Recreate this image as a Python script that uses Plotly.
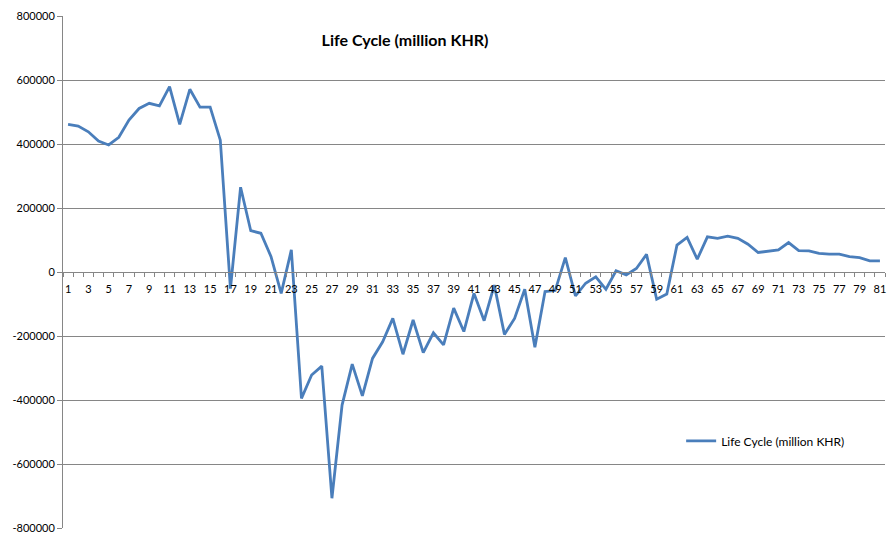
import plotly.graph_objects as go

categories = list(range(1, 82))
life_cycle = [
    461000, 456000, 438000, 409000, 397000, 421000, 475000, 511000, 527000, 519000,
    579000, 461000, 571000, 515000, 515000, 412000, -52000, 265000, 129000, 121000,
    48000, -67000, 69000, -395000, -322000, -294000, -707000, -416000, -288000, -387000,
    -270000, -218000, -145000, -257000, -150000, -252000, -190000, -228000, -113000, -186000,
    -67000, -152000, -41000, -195000, -145000, -54000, -235000, -61000, -58000, 45000,
    -75000, -35000, -15000, -54000, 4000, -9000, 11000, 55000, -85000, -69000,
    84000, 108000, 40000, 110000, 105000, 112000, 105000, 87000, 61000, 64000,
    69000, 92000, 67000, 66000, 58000, 56000, 56000, 48000, 45000, 35000,
    35000,
]
series_name = "Life Cycle (million KHR)"
y_ticks = [800000, 600000, 400000, 200000, 0, -200000, -400000, -600000, -800000]
y_tick_labels = [str(v) for v in y_ticks]
x_tick_vals = [c for c in categories if c % 2 == 1]

fig = go.Figure()
fig.add_trace(go.Scatter(
    x=categories, y=life_cycle, mode="lines", name=series_name,
    line=dict(color="#4a7ebb", width=2.8), showlegend=True,
))

fig.update_layout(
    width=888, height=536,
    margin=dict(l=63, r=3, t=16, b=8, autoexpand=False),
    paper_bgcolor="white", plot_bgcolor="white",
    font=dict(family="Lato, Open Sans, sans-serif", size=11, color="black"),
    title=dict(text="<b>Life Cycle (million KHR)</b>", x=405/888, xanchor="center",
               y=1-40/536, yanchor="middle", font=dict(size=16, color="black")),
    legend=dict(x=0.752, y=0.17, xanchor="left", yanchor="middle",
                bgcolor="rgba(0,0,0,0)", font=dict(size=12), itemwidth=30),
    xaxis=dict(
        range=[0.5, 81.5], tickmode="array", tickvals=x_tick_vals,
        ticktext=[str(v) for v in x_tick_vals], automargin=False,
        anchor="free", position=0.5, showgrid=False, zeroline=False,
        showline=True, linecolor="#868686", linewidth=1,
        ticks="outside", ticklen=7, tickcolor="rgba(0,0,0,0)", tickfont=dict(size=11),
        minor=dict(ticks="outside", tickmode="linear", tick0=0.5, dtick=1,
                   ticklen=4, tickcolor="#868686", showgrid=False),
    ),
    yaxis=dict(
        range=[-800000, 800000], tickmode="array", tickvals=y_ticks,
        ticktext=y_tick_labels, automargin=False,
        showgrid=True, gridcolor="#868686", gridwidth=1,
        zeroline=False, showline=True, linecolor="#868686", linewidth=1,
        ticks="outside", ticklen=5, tickcolor="#868686", tickfont=dict(size=11),
    ),
)

fig.write_html("out.html", config={"displayModeBar": False},
               post_script="document.body.style.margin='0';document.body.style.overflow='hidden';")
